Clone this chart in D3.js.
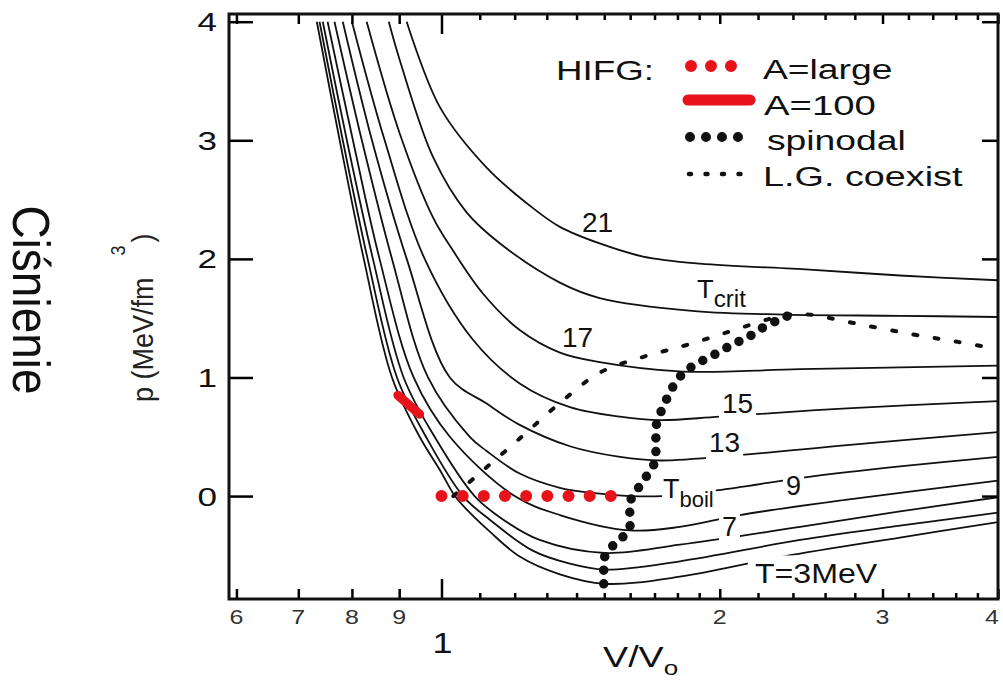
<!DOCTYPE html>
<html>
<head>
<meta charset="utf-8">
<script src="https://cdn.jsdelivr.net/npm/d3@7"></script>
<style>
  body { margin: 0; background: #fff; }
  svg { display: block; font-family: "Liberation Sans", Arial, sans-serif; }
</style>
</head>
<body>
<div id="chart"></div>
<script>
// isotherms: [V/Vo, p (MeV/fm^3)] pairs
const isoT3 = [[0.733,4.0],[0.776,3.0],[0.824,2.0],[0.884,1.0],[0.947,0.50],[0.996,0.22],[1.034,0],[1.073,-0.14],[1.128,-0.30],[1.215,-0.51],[1.343,-0.66],[1.502,-0.74],[1.811,-0.68],[2.341,-0.51],[3.133,-0.35],[4.0,-0.22]];
const isoT4 = [[0.738,4.0],[0.782,3.0],[0.832,2.0],[0.895,1.0],[0.962,0.50],[1.055,0],[1.128,-0.20],[1.255,-0.46],[1.377,-0.57],[1.502,-0.62],[1.811,-0.55],[2.443,-0.37],[3.133,-0.25],[4.0,-0.14]];
const isoT5 = [[0.744,4.0],[0.790,3.0],[0.843,2.0],[0.910,1.0],[0.983,0.50],[1.086,0],[1.157,-0.18],[1.277,-0.37],[1.502,-0.48],[1.811,-0.41],[2.443,-0.26],[3.133,-0.13],[4.0,-0.01]];
const isoT7 = [[0.753,4.0],[0.802,3.0],[0.857,2.0],[0.933,1.0],[1.021,0.50],[1.200,0],[1.343,-0.16],[1.599,-0.29],[1.811,-0.26],[2.103,-0.16],[2.747,-0.03],[4.0,0.13]];
const isoTboil = [[0.766,4.0],[0.820,3.0],[0.884,2.0],[0.967,1.0],[1.073,0.50],[1.119,0.38],[1.215,0.19],[1.343,0.07],[1.483,0.02],[1.599,0],[1.732,0],[1.991,0.05],[2.486,0.16],[3.133,0.25],[4.0,0.33]];
const isoT13 = [[0.782,4.0],[0.841,3.0],[0.917,2.0],[1.021,1.0],[1.119,0.78],[1.215,0.60],[1.377,0.42],[1.560,0.33],[1.723,0.30],[2.129,0.35],[2.747,0.43],[4.0,0.54]];
const isoT15 = [[0.800,4.0],[0.868,3.0],[0.959,2.0],[1.081,1.32],[1.215,0.95],[1.377,0.75],[1.560,0.67],[1.723,0.64],[2.001,0.67],[2.747,0.74],[4.0,0.80]];
const isoT17 = [[0.830,4.0],[0.901,3.06],[0.979,2.35],[1.029,2.07],[1.108,1.71],[1.215,1.40],[1.343,1.21],[1.483,1.13],[1.824,1.05],[2.443,1.07],[4.0,1.10]];
const isoTcrit = [[0.877,4.0],[0.901,3.68],[0.979,2.86],[1.065,2.39],[1.157,2.13],[1.343,1.80],[1.483,1.67],[1.880,1.56],[2.352,1.53],[3.133,1.52],[4.0,1.51]];
const isoT21 = [[0.917,4.0],[0.996,3.28],[1.119,2.77],[1.255,2.43],[1.343,2.27],[1.483,2.13],[1.652,2.02],[1.904,1.96],[2.50,1.91],[3.133,1.86],[4.0,1.82]];

const isotherms = [isoT3, isoT4, isoT5, isoT7, isoTboil, isoT13, isoT15, isoT17, isoTcrit, isoT21];

// spinodal (big dots) and liquid-gas coexistence (small dashes)
const spinodal = [[1.498,-0.74],[1.498,-0.62],[1.502,-0.51],[1.540,-0.40],[1.595,-0.29],[1.599,-0.17],[1.599,-0.05],[1.627,0.05],[1.664,0.16],[1.702,0.29],[1.706,0.40],[1.706,0.51],[1.710,0.62],[1.732,0.73],[1.758,0.84],[1.789,0.95],[1.834,1.05],[1.904,1.13],[1.981,1.20],[2.067,1.28],[2.146,1.34],[2.227,1.42],[2.323,1.49],[2.371,1.52]];
const coexist = [[1.03,0.0],[1.095,0.18],[1.209,0.47],[1.336,0.77],[1.483,1.04],[1.647,1.17],[1.834,1.27],[2.036,1.38],[2.255,1.49],[2.38,1.53],[2.50,1.53],[2.787,1.46],[3.252,1.36],[3.621,1.30],[4.0,1.24]];

// HIFG results
const hifgLarge = [[1.0,0],[1.525,0]];   // red dots, 9 of them
const hifgLargeDots = 9;
const hifgA100 = [[0.897,0.85],[0.947,0.69]];

// ticks
const xTickMajor = [1];
const xTickMid = [0.6,0.7,0.8,0.9,2,3,4];
const xTickMinor = [1.1,1.2,1.3,1.4,1.5,1.6,1.7,1.8,1.9,2.2,2.4,2.6,2.8,3.2,3.4,3.6,3.8];
const xTickLabels = [[0.6,"6"],[0.7,"7"],[0.8,"8"],[0.9,"9"],[2,"2"],[3,"3"],[4,"4"]];
const yTicks = [0,1,2,3,4];

const W = 1003, H = 681;
const red = "#e8121a";

const svg = d3.select("#chart").append("svg")
    .attr("width", W)
    .attr("height", H);

const x = d3.scaleLog().domain([0.589, 4.0]).range([229, 998]);
const y = d3.scaleLinear().domain([-0.868, 4.065]).range([599, 14]);

const [xl, xr] = x.range();
const [yb, yt] = y.range();

svg.append("clipPath").attr("id", "plotclip")
    .append("rect")
    .attr("x", xl).attr("y", yt)
    .attr("width", xr - xl).attr("height", yb - yt);

const plot = svg.append("g").attr("clip-path", "url(#plotclip)");

const line = d3.line()
    .x(d => x(d[0]))
    .y(d => y(d[1]))
    .curve(d3.curveCatmullRom.alpha(0.5));

//isotherms
plot.selectAll(".iso")
    .data(isotherms)
    .enter()
    .append("path")
    .attr("class", "iso")
    .attr("d", line)
    .attr("fill", "none")
    .attr("stroke", "#111")
    .attr("stroke-width", 1.8);

//coexistence curve
plot.append("path")
    .attr("d", line(coexist))
    .attr("fill", "none")
    .attr("stroke", "#111")
    .attr("stroke-width", 4)
    .attr("stroke-linecap", "round")
    .attr("stroke-dasharray", "4 17.5");

// helper for labels, text is a bit stretched sideways in the original
function addText(parent, x0, y0, sx, size, parts, pad) {
    const g = parent.append("g")
        .attr("transform", `translate(${x0},${y0}) scale(${sx},1)`);
    const t = g.append("text").attr("font-size", size).attr("fill", "#111");
    parts.forEach(p => {
        t.append("tspan")
            .text(p.s)
            .attr("font-size", p.size || size)
            .attr("dy", p.dy || 0);
    });
    if (pad) {
        const b = t.node().getBBox();
        g.insert("rect", "text")
            .attr("x", b.x - pad[0])
            .attr("y", b.y - pad[1])
            .attr("width", b.width + pad[0] + pad[2])
            .attr("height", b.height + pad[1] + pad[3])
            .attr("fill", "#fff");
    }
    return g;
}

// dotted stroke with exactly n dots from end to end
function dotted(sel, n) {
    const len = sel.node().getTotalLength();
    sel.attr("stroke-dasharray", `0 ${len / (n - 1) - 0.01}`);
}

//curve labels
addText(svg, 582, 232, 1.0, 28, [{s:"21"}]);
addText(svg, 562, 347, 1.0, 28, [{s:"17"}]);
addText(svg, 697, 298, 1.05, 26, [{s:"T"}, {s:"crit", size:23, dy:9}]);
addText(svg, 722, 413, 1.0, 28, [{s:"15"}], [3,0,3,0]);
addText(svg, 709, 452, 1.0, 28, [{s:"13"}], [3,0,3,4]);
addText(svg, 663, 498, 1.0, 27, [{s:"T"}, {s:"boil", size:22, dy:9}], [1,0,2,0]);
addText(svg, 786, 495, 1.0, 27, [{s:"9"}], [3,0,3,0]);
addText(svg, 722, 536, 1.0, 27, [{s:"7"}], [3,0,3,0]);
addText(svg, 755, 583, 1.19, 27, [{s:"T=3MeV"}], [6,3,2,0]);

//spinodal dots
plot.append("path")
    .attr("d", d3.line().x(d => x(d[0])).y(d => y(d[1])).curve(d3.curveCatmullRom)(spinodal))
    .attr("fill", "none")
    .attr("stroke", "#111")
    .attr("stroke-width", 9.5)
    .attr("stroke-linecap", "round")
    .attr("stroke-dasharray", "0 13.6");

//A=large red dots
const largePath = plot.append("path")
    .attr("d", d3.line().x(d => x(d[0])).y(d => y(d[1]))(hifgLarge))
    .attr("fill", "none")
    .attr("stroke", red)
    .attr("stroke-width", 12)
    .attr("stroke-linecap", "round");
dotted(largePath, hifgLargeDots);

//A=100 red bar
plot.append("path")
    .attr("d", d3.line().x(d => x(d[0])).y(d => y(d[1]))(hifgA100))
    .attr("fill", "none")
    .attr("stroke", red)
    .attr("stroke-width", 9)
    .attr("stroke-linecap", "round");

//axes ticks, pointing inward on all four sides
function xTickSet(values, len) {
    svg.append("g")
        .attr("transform", `translate(0,${yb})`)
        .call(d3.axisBottom(x).tickValues(values).tickSize(-len).tickFormat(""))
        .call(g => g.select(".domain").remove())
        .call(g => g.selectAll(".tick line").attr("stroke-width", 2.5));
    svg.append("g")
        .attr("transform", `translate(0,${yt})`)
        .call(d3.axisTop(x).tickValues(values).tickSize(-len).tickFormat(""))
        .call(g => g.select(".domain").remove())
        .call(g => g.selectAll(".tick line").attr("stroke-width", 2.5));
}
xTickSet(xTickMajor, 20);
xTickSet(xTickMid, 10);
xTickSet(xTickMinor, 6);

svg.append("g")
    .attr("transform", `translate(${xl},0)`)
    .call(d3.axisLeft(y).tickValues(yTicks).tickSize(-24).tickFormat(""))
    .call(g => g.select(".domain").remove())
    .call(g => g.selectAll(".tick line").attr("stroke-width", 2.5));

svg.append("g")
    .attr("transform", `translate(${xr},0)`)
    .call(d3.axisRight(y).tickValues(yTicks).tickSize(-16).tickFormat(""))
    .call(g => g.select(".domain").remove())
    .call(g => g.selectAll(".tick line").attr("stroke-width", 2.5));

//frame
svg.append("rect")
    .attr("x", xl).attr("y", yt)
    .attr("width", xr - xl).attr("height", yb - yt)
    .attr("fill", "none")
    .attr("stroke", "#111")
    .attr("stroke-width", 3);

//tick labels
yTicks.forEach(v => {
    addText(svg, 217, y(v) + 9.5, 1.35, 26, [{s: String(v)}])
        .select("text").attr("text-anchor", "end");
});
xTickLabels.forEach(([v, s]) => {
    addText(svg, Math.min(x(v), 992), 624, 1.25, 20, [{s}])
        .select("text").attr("text-anchor", "middle").attr("fill", "#333");
});
addText(svg, x(1) + 1, 653, 1.2, 30, [{s:"1"}])
    .select("text").attr("text-anchor", "middle");

//x axis title
addText(svg, 603, 667, 1.3, 29, [{s:"V/V"}, {s:"o", size:20, dy:8}]);

//y axis title
const yTitle = svg.append("g")
    .attr("transform", "translate(153,402) scale(1.09,1) rotate(-90)")
    .append("text")
    .attr("font-size", 27)
    .attr("fill", "#222");
yTitle.append("tspan").text("p (MeV/fm");
yTitle.append("tspan").text("3").attr("font-size", 18).attr("dx", 22).attr("dy", -26);
yTitle.append("tspan").text(")").attr("dx", 3).attr("dy", 26);

svg.append("g")
    .attr("transform", "translate(13,300) scale(1.12,1) rotate(90)")
    .append("text")
    .attr("font-size", 46)
    .attr("text-anchor", "middle")
    .attr("fill", "#111")
    .text("Ciśnienie");

//legend
const legend = svg.append("g");
addText(legend, 556, 80, 1.36, 27, [{s:"HIFG:"}]);

const lgLarge = legend.append("path")
    .attr("d", "M691,66H731")
    .attr("stroke", red).attr("stroke-width", 12)
    .attr("stroke-linecap", "round");
dotted(lgLarge, 3);
addText(legend, 763, 79, 1.38, 27, [{s:"A=large"}]);

legend.append("line")
    .attr("x1", 688).attr("x2", 750).attr("y1", 100).attr("y2", 100)
    .attr("stroke", red).attr("stroke-width", 11)
    .attr("stroke-linecap", "round");
addText(legend, 764, 115, 1.42, 27, [{s:"A=100"}]);

const lgSpin = legend.append("path")
    .attr("d", "M690,137H738")
    .attr("stroke", "#111").attr("stroke-width", 10)
    .attr("stroke-linecap", "round");
dotted(lgSpin, 4);
addText(legend, 767, 150, 1.38, 27, [{s:"spinodal"}]);

legend.append("line")
    .attr("x1", 689).attr("x2", 755).attr("y1", 174).attr("y2", 174)
    .attr("stroke", "#111").attr("stroke-width", 4.5)
    .attr("stroke-linecap", "round").attr("stroke-dasharray", "2 14.5");
addText(legend, 763, 186, 1.4, 27, [{s:"L.G. coexist"}]);
</script>
</body>
</html>
